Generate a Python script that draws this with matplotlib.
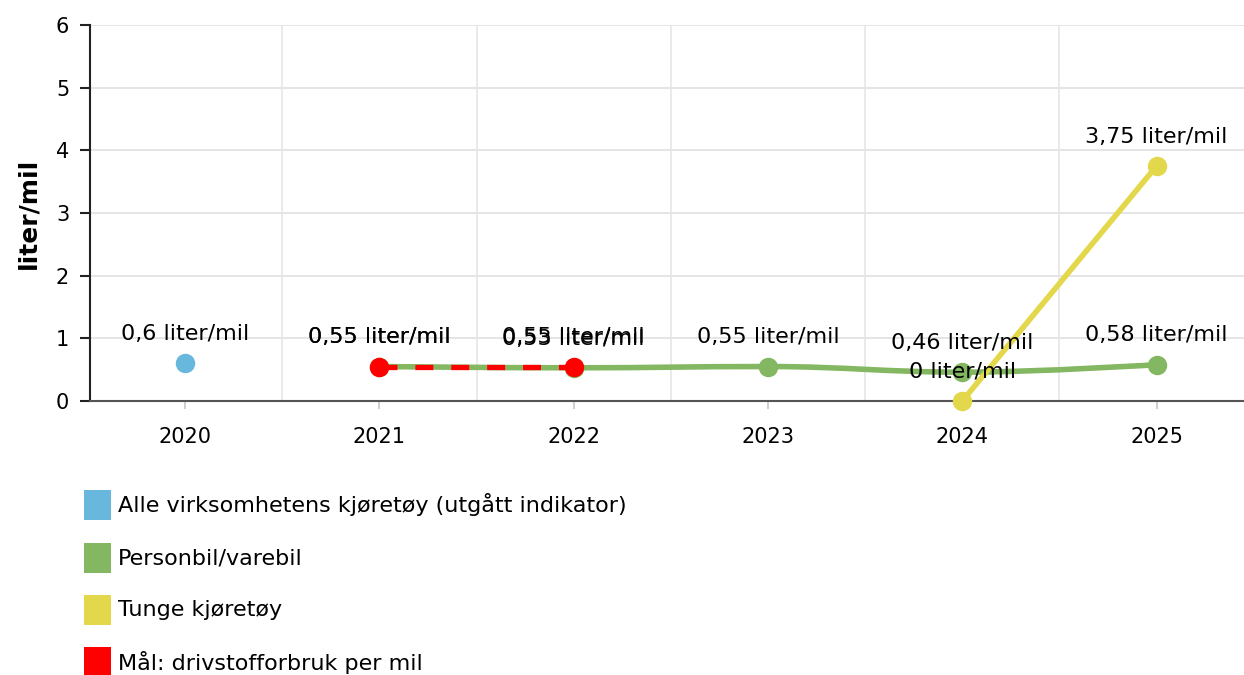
import matplotlib
matplotlib.use("Agg")
import matplotlib.pyplot as plt
from matplotlib.path import Path
from matplotlib.patches import PathPatch, Rectangle

years = ["2020", "2021", "2022", "2023", "2024", "2025"]
alle_x = [0]
alle_v = [0.6]
person_x = [1, 2, 3, 4, 5]
person_v = [0.55, 0.53, 0.55, 0.46, 0.58]
tunge_x = [4, 5]
tunge_v = [0.0, 3.75]
maal_x = [1, 2]
maal_v = [0.55, 0.55]

legend_labels = ["Alle virksomhetens kjøretøy (utgått indikator)", "Personbil/varebil",
                 "Tunge kjøretøy", "Mål: drivstofforbruk per mil"]
C_BLUE, C_GREEN, C_YELLOW, C_RED = "#68b7dc", "#84b761", "#e3d84b", "#ff0000"
colors = [C_BLUE, C_GREEN, C_YELLOW, C_RED]

W, H = 1244, 675
fig = plt.figure(figsize=(W / 100, H / 100), dpi=100)
plt.rcParams['font.family'] = ['DejaVu Sans']
FS = 16
TFS = 15

ax = fig.add_axes([90 / W, 1 - 401 / H, (1244 - 90) / W, (401 - 25) / H])
ax.set_xlim(-0.49, 5.45)
ax.set_ylim(0, 6)

def fmt(v):
    s = f"{v:.2f}".rstrip("0").rstrip(".")
    return s.replace(".", ",") + " liter/mil"

def spline_path(xs, ys, sm=1.5):
    d = sm + 1
    n = len(xs)
    lc, rc = [None] * n, [None] * n
    for i in range(n):
        x, y = xs[i], ys[i]
        if 0 < i < n - 1:
            lx, ly = xs[i - 1], ys[i - 1]
            nx, ny = xs[i + 1], ys[i + 1]
            lcx, lcy = (sm * x + lx) / d, (sm * y + ly) / d
            rcx, rcy = (sm * x + nx) / d, (sm * y + ny) / d
            corr = ((rcy - lcy) * (rcx - x)) / (rcx - lcx) + y - rcy
            lcy += corr
            rcy += corr
            if lcy > ly and lcy > y:
                lcy = max(ly, y); rcy = 2 * y - lcy
            elif lcy < ly and lcy < y:
                lcy = min(ly, y); rcy = 2 * y - lcy
            if rcy > ny and rcy > y:
                rcy = max(ny, y); lcy = 2 * y - rcy
            elif rcy < ny and rcy < y:
                rcy = min(ny, y); lcy = 2 * y - rcy
            lc[i], rc[i] = (lcx, lcy), (rcx, rcy)
        else:
            lc[i], rc[i] = (x, y), (x, y)
    verts = [(xs[0], ys[0])]
    codes = [Path.MOVETO]
    for i in range(1, n):
        verts += [rc[i - 1], lc[i], (xs[i], ys[i])]
        codes += [Path.CURVE4] * 3
    return Path(verts, codes)

# grid
for yv in range(0, 7):
    ax.axhline(yv, color="#e3e3e3", lw=1.3, zorder=0)
for xv in [0.5, 1.5, 2.5, 3.5, 4.5]:
    ax.axvline(xv, color="#e6e6e6", lw=1.2, zorder=0)

MS = 13
# green spline
ax.add_patch(PathPatch(spline_path(person_x, person_v), fill=False, edgecolor=C_GREEN,
                       lw=4.0, zorder=2, capstyle="round"))
ax.plot(person_x, person_v, "o", color=C_GREEN, ms=MS, zorder=3)
# yellow
ax.plot(tunge_x, tunge_v, "-o", color=C_YELLOW, lw=4.0, ms=MS, zorder=3, clip_on=False)
# blue
ax.plot(alle_x, alle_v, "o", color=C_BLUE, ms=MS, zorder=3)
# red target
ax.plot(maal_x, maal_v, color=C_RED, lw=3.8, ls=(0, (3.4, 3.4)), zorder=4)
ax.plot(maal_x, maal_v, "o", color=C_RED, ms=MS, zorder=5)

off = 21
for xs, vs in [(alle_x, alle_v), (person_x, person_v), (tunge_x, tunge_v), (maal_x, maal_v)]:
    for x, v in zip(xs, vs):
        ax.annotate(fmt(v), (x, v), xytext=(0, off), textcoords="offset points",
                    ha="center", va="center", fontsize=FS, color="#000000", zorder=6,
                    annotation_clip=False)

# axes styling
for s in ["top", "right"]:
    ax.spines[s].set_visible(False)
ax.spines["left"].set_color("#222222")
ax.spines["left"].set_linewidth(1.5)
ax.spines["bottom"].set_color("#555555")
ax.spines["bottom"].set_linewidth(1.5)
ax.set_yticks(range(0, 7))
ax.set_yticklabels([str(i) for i in range(0, 7)], fontsize=TFS)
ax.set_xticks(range(len(years)))
ax.set_xticklabels(years, fontsize=TFS)
ax.tick_params(axis="y", length=7, width=1.5, color="#222222", pad=8)
ax.tick_params(axis="x", length=6, width=1.3, color="#cccccc", pad=13)
ax.set_ylabel("liter/mil", fontsize=18, fontweight="bold", labelpad=11)

# legend (manual)
rows = [505, 558, 610, 662]
for yc, c, lab in zip(rows, colors, legend_labels):
    fig.patches.append(Rectangle((84 / W, 1 - (yc + 15) / H), 27 / W, 30 / H,
                                 transform=fig.transFigure, facecolor=c, edgecolor="none"))
    fig.text(118 / W, 1 - yc / H, lab, fontsize=FS, va="center", ha="left")

fig.savefig("out.png", dpi=100)
